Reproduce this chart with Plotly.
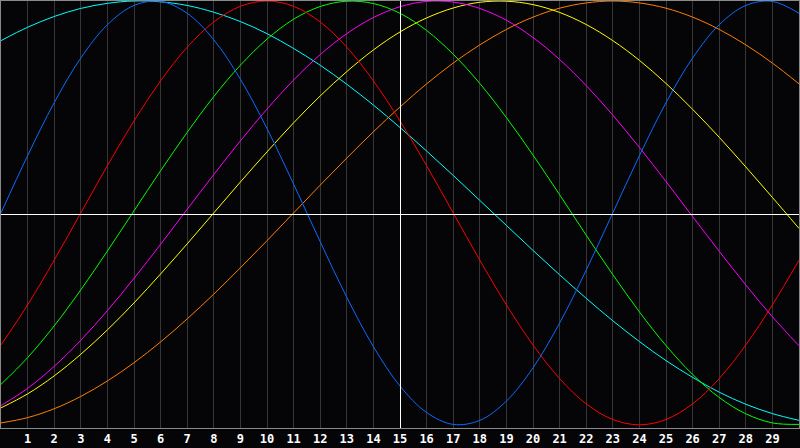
import plotly.graph_objects as go

days = list(range(0, 31))
tick_days = list(range(1, 30))
tick_labels = [str(d) for d in tick_days]

blue = [0.0, 0.270, 0.520, 0.731, 0.888, 0.979, 0.998, 0.942, 0.817, 0.631, 0.398, 0.136,
        -0.136, -0.398, -0.631, -0.817, -0.942, -0.998, -0.979, -0.888, -0.731, -0.520,
        -0.270, 0.0, 0.270, 0.520, 0.731, 0.888, 0.979, 0.998, 0.942]
red = [-0.623, -0.434, -0.223, 0.0, 0.223, 0.434, 0.623, 0.782, 0.901, 0.975, 1.0, 0.975,
       0.901, 0.782, 0.623, 0.434, 0.223, 0.0, -0.223, -0.434, -0.623, -0.782, -0.901,
       -0.975, -1.0, -0.975, -0.901, -0.782, -0.623, -0.434, -0.223]
green = [-0.809, -0.683, -0.533, -0.363, -0.180, 0.010, 0.199, 0.380, 0.549, 0.697, 0.820,
         0.914, 0.974, 0.999, 0.988, 0.942, 0.861, 0.749, 0.611, 0.450, 0.273, 0.086,
         -0.105, -0.291, -0.467, -0.626, -0.762, -0.871, -0.948, -0.991, -0.998]
magenta = [-0.909, -0.828, -0.724, -0.601, -0.461, -0.309, -0.148, 0.017, 0.181, 0.340,
           0.490, 0.627, 0.747, 0.846, 0.922, 0.973, 0.998, 0.995, 0.965, 0.909, 0.828,
           0.724, 0.601, 0.461, 0.309, 0.148, -0.017, -0.181, -0.340, -0.490, -0.627]
yellow = [-0.920, -0.854, -0.769, -0.667, -0.552, -0.425, -0.288, -0.146, 0.0, 0.146, 0.288,
          0.425, 0.552, 0.667, 0.769, 0.854, 0.920, 0.967, 0.994, 0.999, 0.983, 0.946,
          0.889, 0.813, 0.720, 0.611, 0.489, 0.357, 0.217, 0.073, -0.073]
orange = [-0.991, -0.966, -0.924, -0.866, -0.793, -0.707, -0.609, -0.5, -0.383, -0.259,
          -0.131, 0.0, 0.131, 0.259, 0.383, 0.5, 0.609, 0.707, 0.793, 0.866, 0.924, 0.966,
          0.991, 1.0, 0.991, 0.966, 0.924, 0.866, 0.793, 0.707, 0.609]
cyan = [0.813, 0.876, 0.927, 0.965, 0.989, 1.0, 0.996, 0.979, 0.947, 0.903, 0.846, 0.776,
        0.697, 0.607, 0.509, 0.403, 0.292, 0.177, 0.059, -0.059, -0.177, -0.292, -0.403,
        -0.509, -0.607, -0.697, -0.776, -0.846, -0.903, -0.947, -0.979]

series = [
    (cyan, "#00ffff"),
    (orange, "#ff7f00"),
    (yellow, "#ffff00"),
    (magenta, "#ff00ff"),
    (green, "#00ff00"),
    (red, "#ff0000"),
    (blue, "#0a6cff"),
]

fig = go.Figure()
for vals, col in series:
    fig.add_trace(go.Scatter(x=days, y=vals, mode="lines",
                             line=dict(color=col, width=1, shape="spline"),
                             showlegend=False, hoverinfo="skip"))

# centre cross (nudged half a pixel so it renders crisp)
fig.add_shape(type="line", xref="x", yref="paper", x0=15.019, x1=15.019, y0=0, y1=1,
              line=dict(color="#ffffff", width=1), layer="above")
fig.add_shape(type="line", xref="paper", yref="paper", x0=0, x1=1, y0=0.5, y1=0.5,
              line=dict(color="#ffffff", width=1), layer="above")

fig.update_layout(
    width=800, height=448,
    margin=dict(l=1, r=1, t=1, b=20),
    paper_bgcolor="#050508",
    plot_bgcolor="#050508",
    xaxis=dict(range=[0, 30], tickvals=tick_days,
               ticktext=["<b>" + t + "</b>" for t in tick_labels],
               showgrid=True, gridcolor="#363636", gridwidth=1,
               zeroline=False, ticks="",
               tickfont=dict(family="DejaVu Sans Mono", size=12, color="#ffffff"),
               showline=True, linecolor="#8a8a8a", linewidth=1, mirror=True,
               fixedrange=True),
    yaxis=dict(range=[-1.015, 1.0], showgrid=False, zeroline=False,
               showticklabels=False, ticks="",
               showline=True, linecolor="#8a8a8a", linewidth=1, mirror=True,
               fixedrange=True),
)

fig.write_html("out.html", config={"displayModeBar": False},
               post_script="document.body.style.margin='0';document.body.style.background='#050508';")
